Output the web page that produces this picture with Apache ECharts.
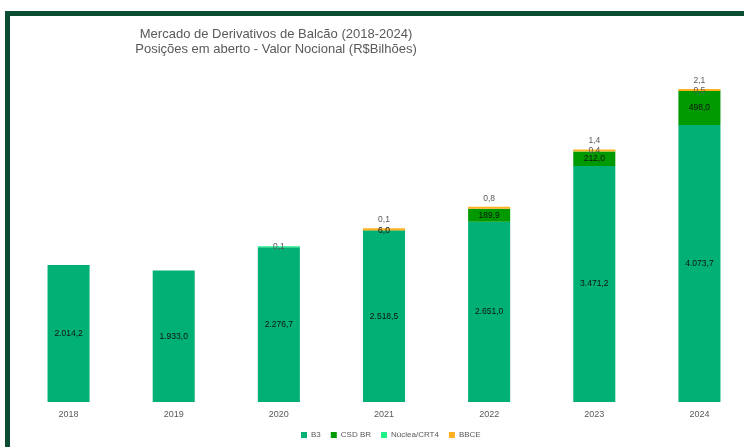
<!DOCTYPE html>
<html>
<head>
<meta charset="utf-8">
<script src="https://cdn.jsdelivr.net/npm/echarts@6/dist/echarts.min.js"></script>
<style>
html,body{margin:0;padding:0;background:#fff;overflow:hidden;width:744px;height:447px;}
#c{width:760px;height:447px;}
</style>
</head>
<body>
<div id="c"></div>
<script>
const years = ['2018', '2019', '2020', '2021', '2022', '2023', '2024'];
const b3 = [2014.2, 1933.0, 2276.7, 2518.5, 2651.0, 3471.2, 4073.7];
const csdbr = [null, null, null, 6.0, 189.9, 212.0, 498.0];
const nuclea = [null, null, 0.1, null, null, 0.4, 0.5];
const bbce = [null, null, null, 0.1, 0.8, 1.4, 2.1];
const seriesNames = ['B3', 'CSD BR', 'Núclea/CRT4', 'BBCE'];

function fmt(v) {
  if (v === null || v === undefined) return '';
  const parts = Math.abs(v).toFixed(1).split('.');
  const intPart = parts[0].replace(/\B(?=(\d{3})+(?!\d))/g, '.');
  return intPart + ',' + parts[1];
}
const labelFmt = p => (p.value === null || p.value === undefined) ? '' : fmt(p.value);

const chart = echarts.init(document.getElementById('c'), null, {renderer: 'canvas'});
const option = {
  backgroundColor: '#ffffff',
  animation: false,
  title: {
    text: 'Mercado de Derivativos de Balcão (2018-2024)\nPosições em aberto - Valor Nocional (R$Bilhões)',
    left: 271,
    textAlign: 'center',
    top: 22,
    textStyle: {fontFamily: 'Liberation Sans', fontSize: 13, fontWeight: 'normal', color: '#595959', lineHeight: 15}
  },
  legend: {
    data: seriesNames,
    left: 296,
    top: 426,
    itemWidth: 6,
    itemHeight: 6,
    itemGap: 10,
    icon: 'rect',
    textStyle: {fontFamily: 'Liberation Sans', fontSize: 8, color: '#595959', padding: [0, 0, 0, -1]}
  },
  grid: {left: 16, top: 62, width: 736, height: 340, containLabel: false},
  xAxis: {
    type: 'category',
    data: years,
    axisLine: {show: false},
    axisTick: {show: false},
    axisLabel: {fontFamily: 'Liberation Sans', fontSize: 9, color: '#595959', margin: 8}
  },
  yAxis: {type: 'value', min: 0, max: 5000, show: false, splitLine: {show: false}},
  graphic: [
    {type: 'rect', shape: {x: 5, y: 11, width: 760, height: 5}, style: {fill: '#0b4d33'}},
    {type: 'rect', shape: {x: 5, y: 11, width: 5, height: 440}, style: {fill: '#0b4d33'}}
  ],
  series: [
    {
      name: 'B3', type: 'bar', stack: 't', data: b3, barWidth: '40%',
      itemStyle: {color: '#00b074'},
      label: {show: true, position: 'inside', formatter: labelFmt, fontFamily: 'Liberation Sans', fontSize: 8.5, color: '#111'}
    },
    {
      name: 'CSD BR', type: 'bar', stack: 't', data: csdbr,
      itemStyle: {color: '#009a00'},
      label: {show: true, position: 'inside', formatter: labelFmt, fontFamily: 'Liberation Sans', fontSize: 8.5, color: '#111'}
    },
    {
      name: 'Núclea/CRT4', type: 'bar', stack: 't', data: nuclea, barMinHeight: 1,
      itemStyle: {color: '#1ef08a'},
      label: {show: true, position: 'inside', formatter: labelFmt, fontFamily: 'Liberation Sans', fontSize: 8.5, color: '#595959'}
    },
    {
      name: 'BBCE', type: 'bar', stack: 't', data: bbce, barMinHeight: 2,
      itemStyle: {color: '#ffb020'},
      label: {show: true, position: 'top', distance: 4, formatter: labelFmt, fontFamily: 'Liberation Sans', fontSize: 8.5, color: '#595959'}
    }
  ]
};
chart.setOption(option);
</script>
</body>
</html>
